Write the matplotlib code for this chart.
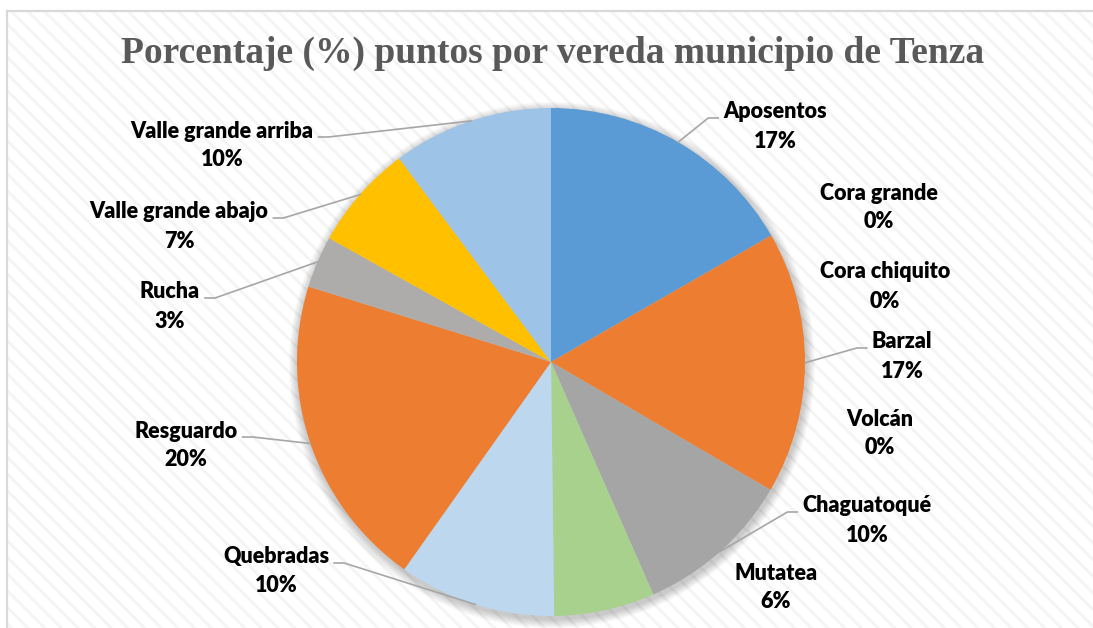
import matplotlib.pyplot as plt
from matplotlib.patches import Rectangle, Circle
import numpy as np

W, H = 1093, 628

titulo = "Porcentaje (%) puntos por vereda municipio de Tenza"
veredas = ["Aposentos", "Cora grande", "Cora chiquito", "Barzal", "Volcán", "Chaguatoqué",
           "Mutatea", "Quebradas", "Resguardo", "Rucha", "Valle grande abajo", "Valle grande arriba"]
porcentajes = [16.7, 0, 0, 16.7, 0, 10.0, 6.4, 10.0, 20.0, 3.3, 6.7, 10.2]
colores = ["#5B9BD5", "#ED7D31", "#A5A5A5", "#ED7D31", "#FFC000", "#A5A5A5",
           "#A9D18E", "#BDD7EE", "#ED7D31", "#AEABAB", "#FFC000", "#9DC3E6"]

# where each label sits (px from top-left) and whether excel drew a leader line
pos_etiquetas = [(775, 112), (879, 193), (885, 272), (902, 342), (880, 419), (867, 506),
                 (776, 573), (276, 557), (186, 431), (170, 292), (179, 212), (222, 131)]
con_linea = [True, False, False, True, False, True, False, True, True, True, True, True]

centro = (551, H - 362)
radio = 254

plt.rcParams['hatch.linewidth'] = 2.0

fig = plt.figure(figsize=(W / 100, H / 100), dpi=100)
ax = fig.add_axes([0, 0, 1, 1])

# chart area: white with faint diagonal stripes + light border
ax.add_patch(Rectangle((7, -10), W + 20, H - 10.5 + 10, facecolor="white",
                       edgecolor="#F4F4F4", hatch="\\\\", linewidth=0, zorder=0))
ax.add_patch(Rectangle((7, -10), W + 20, H - 10.5 + 10, fill=False,
                       edgecolor="#D9D9D9", linewidth=1.6, zorder=1))

# soft shadow round the pie
for i in range(9):
    ax.add_patch(Circle((centro[0] + 1, centro[1] - 3), radio + 9 - i, color="black",
                        alpha=0.022, linewidth=0, zorder=2))

wedges, _ = ax.pie(porcentajes, colors=colores, startangle=90, counterclock=False,
                   center=centro, radius=radio, wedgeprops=dict(linewidth=0))
for w in wedges:
    w.set_zorder(3)

fig.text(0.5055, 1 - 53 / H, titulo, ha="center", va="center", fontsize=27,
         fontfamily="Liberation Serif", fontweight="bold", color="#595959")

textos = []
for nombre, p, (x, y) in zip(veredas, porcentajes, pos_etiquetas):
    t1 = ax.text(x, H - y, nombre, ha="center", va="center", fontsize=15.5,
                 fontfamily="Lato", fontweight="heavy", color="black", zorder=5)
    ax.text(x, H - y - 29, f"{round(p)}%", ha="center", va="center", fontsize=15.5,
            fontfamily="Lato", fontweight="heavy", color="black", zorder=5)
    textos.append(t1)

ax.set_xlim(0, W)
ax.set_ylim(0, H)
ax.set_aspect("equal")
ax.axis("off")

fig.canvas.draw()
inv = ax.transData.inverted()
for w, t, linea in zip(wedges, textos, con_linea):
    if not linea:
        continue
    ang = np.deg2rad((w.theta1 + w.theta2) / 2)
    ex = centro[0] + radio * np.cos(ang)
    ey = centro[1] + radio * np.sin(ang)
    bb = t.get_window_extent().transformed(inv)
    yl = (bb.y0 + bb.y1) / 2 - 6
    if bb.x0 > centro[0]:
        xa = bb.x0 - 5
        xk = xa - 10
    else:
        xa = bb.x1 + 5
        xk = xa + 10
    ax.plot([xa, xk, ex], [yl, yl, ey], color="#A6A6A6", linewidth=1.2, zorder=4)

fig.savefig("out.png", dpi=100)
